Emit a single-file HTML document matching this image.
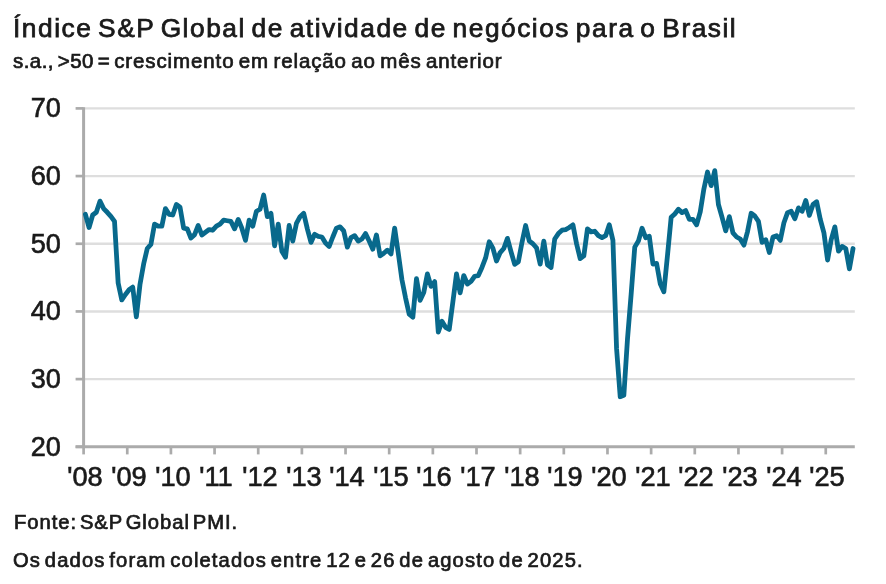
<!DOCTYPE html>
<html lang="pt"><head><meta charset="utf-8"><title>Índice S&amp;P Global de atividade de negócios para o Brasil</title>
<style>
html,body{margin:0;padding:0;background:#fff;}
body{width:886px;height:584px;position:relative;overflow:hidden;filter:blur(0.65px);font-family:"Liberation Sans",sans-serif;color:#1a1a1a;}
.t{position:absolute;white-space:nowrap;line-height:1;}
.t{transform-origin:0 0;transform:scaleX(1.04);}
#title{left:13.1px;top:16.0px;font-size:25.3px;letter-spacing:1.46px;word-spacing:-2.91px;-webkit-text-stroke:0.75px #1a1a1a;}
#sub{left:13.3px;top:52.1px;font-size:19.7px;letter-spacing:0.865px;word-spacing:-2.13px;-webkit-text-stroke:0.7px #1a1a1a;}
#f1{left:13.9px;top:513.2px;font-size:19.4px;letter-spacing:0.95px;word-spacing:-3.64px;-webkit-text-stroke:0.7px #1a1a1a;}
#f2{left:13.3px;top:551.1px;font-size:19.4px;letter-spacing:1.09px;word-spacing:-2.80px;-webkit-text-stroke:0.7px #1a1a1a;}
.yl{position:absolute;left:0;width:60.8px;text-align:right;font-size:27.6px;line-height:30px;height:30px;transform-origin:100% 50%;transform:scaleX(0.98);-webkit-text-stroke:0.65px #1a1a1a;}
.xl{position:absolute;top:461.6px;width:60px;text-align:center;font-size:27.6px;line-height:30px;height:30px;transform:scaleX(0.985);-webkit-text-stroke:0.65px #1a1a1a;}
svg{position:absolute;left:0;top:0;}
#sub span{letter-spacing:0.43px;}
</style></head><body>
<svg width="886" height="584" viewBox="0 0 886 584">
<line x1="83.6" x2="854.8" y1="108.40" y2="108.40" stroke="#dedede" stroke-width="2.4"/><line x1="83.6" x2="854.8" y1="176.08" y2="176.08" stroke="#dedede" stroke-width="2.4"/><line x1="83.6" x2="854.8" y1="243.76" y2="243.76" stroke="#dedede" stroke-width="2.4"/><line x1="83.6" x2="854.8" y1="311.44" y2="311.44" stroke="#dedede" stroke-width="2.4"/><line x1="83.6" x2="854.8" y1="379.12" y2="379.12" stroke="#dedede" stroke-width="2.4"/>
<line x1="75.6" x2="83.6" y1="108.40" y2="108.40" stroke="#ababab" stroke-width="2.7"/><line x1="75.6" x2="83.6" y1="176.08" y2="176.08" stroke="#ababab" stroke-width="2.7"/><line x1="75.6" x2="83.6" y1="243.76" y2="243.76" stroke="#ababab" stroke-width="2.7"/><line x1="75.6" x2="83.6" y1="311.44" y2="311.44" stroke="#ababab" stroke-width="2.7"/><line x1="75.6" x2="83.6" y1="379.12" y2="379.12" stroke="#ababab" stroke-width="2.7"/><line x1="75.6" x2="83.6" y1="446.80" y2="446.80" stroke="#ababab" stroke-width="2.7"/>
<line x1="83.60" x2="83.60" y1="446.80" y2="454.4" stroke="#ababab" stroke-width="2.7"/><line x1="127.26" x2="127.26" y1="446.80" y2="454.4" stroke="#ababab" stroke-width="2.7"/><line x1="170.91" x2="170.91" y1="446.80" y2="454.4" stroke="#ababab" stroke-width="2.7"/><line x1="214.57" x2="214.57" y1="446.80" y2="454.4" stroke="#ababab" stroke-width="2.7"/><line x1="258.22" x2="258.22" y1="446.80" y2="454.4" stroke="#ababab" stroke-width="2.7"/><line x1="301.88" x2="301.88" y1="446.80" y2="454.4" stroke="#ababab" stroke-width="2.7"/><line x1="345.54" x2="345.54" y1="446.80" y2="454.4" stroke="#ababab" stroke-width="2.7"/><line x1="389.19" x2="389.19" y1="446.80" y2="454.4" stroke="#ababab" stroke-width="2.7"/><line x1="432.85" x2="432.85" y1="446.80" y2="454.4" stroke="#ababab" stroke-width="2.7"/><line x1="476.50" x2="476.50" y1="446.80" y2="454.4" stroke="#ababab" stroke-width="2.7"/><line x1="520.16" x2="520.16" y1="446.80" y2="454.4" stroke="#ababab" stroke-width="2.7"/><line x1="563.82" x2="563.82" y1="446.80" y2="454.4" stroke="#ababab" stroke-width="2.7"/><line x1="607.47" x2="607.47" y1="446.80" y2="454.4" stroke="#ababab" stroke-width="2.7"/><line x1="651.13" x2="651.13" y1="446.80" y2="454.4" stroke="#ababab" stroke-width="2.7"/><line x1="694.78" x2="694.78" y1="446.80" y2="454.4" stroke="#ababab" stroke-width="2.7"/><line x1="738.44" x2="738.44" y1="446.80" y2="454.4" stroke="#ababab" stroke-width="2.7"/><line x1="782.10" x2="782.10" y1="446.80" y2="454.4" stroke="#ababab" stroke-width="2.7"/><line x1="825.75" x2="825.75" y1="446.80" y2="454.4" stroke="#ababab" stroke-width="2.7"/>
<line x1="83.6" x2="83.6" y1="107.20" y2="448.00" stroke="#ababab" stroke-width="3.0"/>
<line x1="75.6" x2="854.8" y1="446.80" y2="446.80" stroke="#ababab" stroke-width="3.0"/>
<polyline points="85.42,214.32 89.06,227.52 92.69,215.00 96.33,212.29 99.97,201.12 103.61,208.57 107.25,212.29 110.88,216.35 114.52,221.43 118.16,283.01 121.80,299.93 125.44,294.52 129.07,289.78 132.71,287.08 136.35,316.85 139.99,284.37 143.63,264.06 147.26,248.50 150.90,244.44 154.54,224.13 158.18,226.16 161.82,226.16 165.45,208.57 169.09,214.32 172.73,215.00 176.37,204.51 180.01,207.21 183.64,228.19 187.28,228.87 190.92,238.01 194.56,234.62 198.20,225.49 201.83,234.96 205.47,232.25 209.11,229.55 212.75,230.22 216.39,226.16 220.02,224.13 223.66,220.07 227.30,220.75 230.94,221.43 234.58,228.87 238.22,219.40 241.85,228.19 245.49,240.38 249.13,220.07 252.77,226.16 256.40,211.27 260.04,209.24 263.68,195.03 267.32,216.69 270.96,213.30 274.60,245.79 278.23,224.13 281.87,251.20 285.51,257.30 289.15,225.49 292.78,241.05 296.42,223.46 300.06,216.69 303.70,213.30 307.34,228.87 310.98,242.41 314.61,234.28 318.25,236.32 321.89,236.99 325.53,243.08 329.16,246.47 332.80,236.99 336.44,228.19 340.08,226.84 343.72,230.90 347.36,247.14 350.99,237.67 354.63,235.64 358.27,241.05 361.91,239.02 365.54,233.61 369.18,241.05 372.82,249.17 376.46,234.96 380.10,255.94 383.74,253.24 387.37,250.19 391.01,253.91 394.65,228.19 398.29,253.24 401.92,279.63 405.56,297.90 409.20,314.15 412.84,317.19 416.48,278.62 420.12,300.27 423.75,292.49 427.39,273.88 431.03,286.40 434.67,281.66 438.30,332.08 441.94,321.25 445.58,327.34 449.22,329.38 452.86,301.96 456.50,273.88 460.13,292.83 463.77,275.57 467.41,284.03 471.05,281.32 474.68,276.25 478.32,275.57 481.96,267.45 485.60,257.97 489.24,241.73 492.88,248.16 496.51,261.02 500.15,252.56 503.79,248.50 507.43,238.35 511.06,251.88 514.70,264.40 518.34,261.70 521.98,242.41 525.62,225.49 529.25,241.05 532.89,243.76 536.53,247.82 540.17,264.06 543.81,241.05 547.44,264.74 551.08,267.45 554.72,239.02 558.36,233.61 562.00,230.22 565.63,229.55 569.27,227.52 572.91,224.81 576.55,243.76 580.19,258.65 583.82,255.94 587.46,228.87 591.10,231.92 594.74,231.24 598.38,235.64 602.01,237.67 605.65,235.64 609.29,224.81 612.93,240.38 616.57,348.66 620.21,396.72 623.84,395.36 627.48,339.19 631.12,294.52 634.76,247.14 638.39,241.05 642.03,228.19 645.67,237.67 649.31,236.32 652.95,264.06 656.59,263.39 660.22,283.69 663.86,291.81 667.50,255.27 671.14,217.36 674.77,213.98 678.41,209.24 682.05,212.63 685.69,210.60 689.33,219.40 692.97,219.40 696.60,224.81 700.24,211.95 703.88,188.94 707.52,172.02 711.15,185.56 714.79,170.67 718.43,204.51 722.07,217.36 725.71,230.90 729.35,216.69 732.98,232.93 736.62,236.99 740.26,239.02 743.90,245.11 747.53,231.58 751.17,213.30 754.81,216.01 758.45,221.43 762.09,242.41 765.73,239.70 769.36,252.56 773.00,236.99 776.64,235.64 780.28,240.38 783.91,222.78 787.55,212.63 791.19,211.27 794.83,218.72 798.47,207.89 802.11,211.27 805.74,200.44 809.38,215.33 813.02,204.51 816.66,201.80 820.29,219.40 823.93,232.93 827.57,260.00 831.21,239.70 834.85,226.84 838.49,251.20 842.12,246.47 845.76,248.50 849.40,268.80 853.04,248.50" fill="none" stroke="#08698c" stroke-width="4.8" stroke-linejoin="round" stroke-linecap="round"/>
</svg>
<div class="t" id="title">Índice S&amp;P Global de atividade de negócios para o Brasil</div>
<div class="t" id="sub"><span>s.a., &gt;50 = </span>crescimento em relação ao mês anterior</div>
<div class="yl" style="top:93.1px">70</div><div class="yl" style="top:160.8px">60</div><div class="yl" style="top:228.5px">50</div><div class="yl" style="top:296.1px">40</div><div class="yl" style="top:363.8px">30</div><div class="yl" style="top:431.5px">20</div>
<div class="xl" style="left:55.2px">&#39;08</div><div class="xl" style="left:98.9px">&#39;09</div><div class="xl" style="left:142.5px">&#39;10</div><div class="xl" style="left:186.2px">&#39;11</div><div class="xl" style="left:229.8px">&#39;12</div><div class="xl" style="left:273.5px">&#39;13</div><div class="xl" style="left:317.1px">&#39;14</div><div class="xl" style="left:360.8px">&#39;15</div><div class="xl" style="left:404.4px">&#39;16</div><div class="xl" style="left:448.1px">&#39;17</div><div class="xl" style="left:491.8px">&#39;18</div><div class="xl" style="left:535.4px">&#39;19</div><div class="xl" style="left:579.1px">&#39;20</div><div class="xl" style="left:622.7px">&#39;21</div><div class="xl" style="left:666.4px">&#39;22</div><div class="xl" style="left:710.0px">&#39;23</div><div class="xl" style="left:753.7px">&#39;24</div><div class="xl" style="left:797.4px">&#39;25</div>
<div class="t" id="f1">Fonte: S&amp;P Global PMI.</div>
<div class="t" id="f2">Os dados foram coletados entre 12 e 26 de agosto de 2025.</div>
</body></html>
